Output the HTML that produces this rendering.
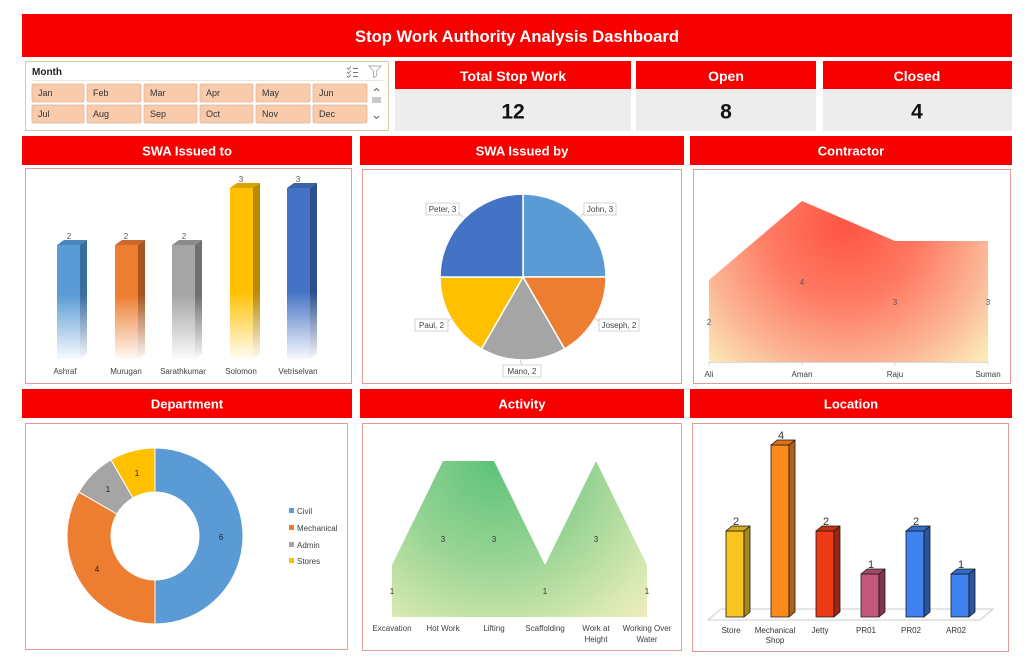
<!DOCTYPE html>
<html><head><meta charset="utf-8"><style>
html,body{margin:0;padding:0;background:#fff;}
svg{display:block;font-family:"Liberation Sans",Arial,sans-serif;}
</style></head><body>
<svg width="1030" height="672" viewBox="0 0 1030 672" xmlns="http://www.w3.org/2000/svg">
<defs>
  <linearGradient id="gB1" gradientUnits="userSpaceOnUse" x1="0" y1="185" x2="0" y2="362"><stop offset="0" stop-color="#5B9BD5"/><stop offset="0.62" stop-color="#5B9BD5"/><stop offset="1" stop-color="#5B9BD5" stop-opacity="0"/></linearGradient>
  <linearGradient id="gB1s" gradientUnits="userSpaceOnUse" x1="0" y1="185" x2="0" y2="362"><stop offset="0" stop-color="#3A6E9E"/><stop offset="0.62" stop-color="#3A6E9E"/><stop offset="1" stop-color="#3A6E9E" stop-opacity="0"/></linearGradient>
  <linearGradient id="gB2" gradientUnits="userSpaceOnUse" x1="0" y1="185" x2="0" y2="362"><stop offset="0" stop-color="#ED7D31"/><stop offset="0.62" stop-color="#ED7D31"/><stop offset="1" stop-color="#ED7D31" stop-opacity="0"/></linearGradient>
  <linearGradient id="gB2s" gradientUnits="userSpaceOnUse" x1="0" y1="185" x2="0" y2="362"><stop offset="0" stop-color="#A8551E"/><stop offset="0.62" stop-color="#A8551E"/><stop offset="1" stop-color="#A8551E" stop-opacity="0"/></linearGradient>
  <linearGradient id="gB3" gradientUnits="userSpaceOnUse" x1="0" y1="185" x2="0" y2="362"><stop offset="0" stop-color="#A5A5A5"/><stop offset="0.62" stop-color="#A5A5A5"/><stop offset="1" stop-color="#A5A5A5" stop-opacity="0"/></linearGradient>
  <linearGradient id="gB3s" gradientUnits="userSpaceOnUse" x1="0" y1="185" x2="0" y2="362"><stop offset="0" stop-color="#707070"/><stop offset="0.62" stop-color="#707070"/><stop offset="1" stop-color="#707070" stop-opacity="0"/></linearGradient>
  <linearGradient id="gB4" gradientUnits="userSpaceOnUse" x1="0" y1="185" x2="0" y2="362"><stop offset="0" stop-color="#FFC000"/><stop offset="0.6" stop-color="#FFC000"/><stop offset="1" stop-color="#FFC000" stop-opacity="0"/></linearGradient>
  <linearGradient id="gB4s" gradientUnits="userSpaceOnUse" x1="0" y1="185" x2="0" y2="362"><stop offset="0" stop-color="#B88A00"/><stop offset="0.6" stop-color="#B88A00"/><stop offset="1" stop-color="#B88A00" stop-opacity="0"/></linearGradient>
  <linearGradient id="gB5" gradientUnits="userSpaceOnUse" x1="0" y1="185" x2="0" y2="362"><stop offset="0" stop-color="#4472C4"/><stop offset="0.6" stop-color="#4472C4"/><stop offset="1" stop-color="#4472C4" stop-opacity="0"/></linearGradient>
  <linearGradient id="gB5s" gradientUnits="userSpaceOnUse" x1="0" y1="185" x2="0" y2="362"><stop offset="0" stop-color="#2B4F8C"/><stop offset="0.6" stop-color="#2B4F8C"/><stop offset="1" stop-color="#2B4F8C" stop-opacity="0"/></linearGradient>
  <radialGradient id="gCon" gradientUnits="userSpaceOnUse" cx="845" cy="225" r="190"><stop offset="0" stop-color="#FF5444"/><stop offset="0.4" stop-color="#FF7A62"/><stop offset="0.75" stop-color="#FBB595"/><stop offset="1" stop-color="#FCE8B6"/></radialGradient>
  <radialGradient id="gAct" gradientUnits="userSpaceOnUse" cx="495" cy="462" r="230"><stop offset="0" stop-color="#5CC27A"/><stop offset="0.45" stop-color="#9BD595"/><stop offset="0.8" stop-color="#D9E9B2"/><stop offset="1" stop-color="#F8EEC2"/></radialGradient>
</defs>

<!-- Title -->
<rect x="22" y="14" width="990" height="43" fill="#F70000"/>
<text x="517" y="42" font-size="16.6" font-weight="bold" fill="#fff" text-anchor="middle">Stop Work Authority Analysis Dashboard</text>

<!-- Slicer -->
<rect x="25.5" y="61.5" width="363" height="69" fill="#fff" stroke="#D8C9A6"/>
<text x="32" y="75" font-size="10" font-weight="bold" fill="#222">Month</text>
<line x1="32" y1="80.5" x2="383" y2="80.5" stroke="#ECE6DA"/>
<g stroke="#777" stroke-width="0.9" fill="none">
  <path d="M347 68 l1.5 1.5 l2.5 -3 M347 72 l1.5 1.5 l2.5 -3 M347 76 l1.5 1.5 l2.5 -3"/>
  <path d="M353 68.5 h5 M353 72.5 h5 M353 76.5 h5"/>
</g>
<path d="M369 66 h12 l-4.5 5 v5 l-3 1.5 v-6.5 z" fill="none" stroke="#AAA" stroke-width="0.9"/>
<g fill="#F8CBAD" stroke="#E2B597" stroke-width="0.8">
  <rect x="32" y="84" width="52" height="18" rx="1"/><rect x="87" y="84" width="54" height="18" rx="1"/><rect x="144" y="84" width="53" height="18" rx="1"/><rect x="200" y="84" width="53" height="18" rx="1"/><rect x="256" y="84" width="54" height="18" rx="1"/><rect x="313" y="84" width="54" height="18" rx="1"/>
  <rect x="32" y="105" width="52" height="18" rx="1"/><rect x="87" y="105" width="54" height="18" rx="1"/><rect x="144" y="105" width="53" height="18" rx="1"/><rect x="200" y="105" width="53" height="18" rx="1"/><rect x="256" y="105" width="54" height="18" rx="1"/><rect x="313" y="105" width="54" height="18" rx="1"/>
</g>
<g font-size="9" fill="#333">
  <text x="38" y="96">Jan</text><text x="93" y="96">Feb</text><text x="150" y="96">Mar</text><text x="206" y="96">Apr</text><text x="262" y="96">May</text><text x="319" y="96">Jun</text>
  <text x="38" y="117">Jul</text><text x="93" y="117">Aug</text><text x="150" y="117">Sep</text><text x="206" y="117">Oct</text><text x="262" y="117">Nov</text><text x="319" y="117">Dec</text>
</g>
<path d="M374 91 l2.5 -2.5 l2.5 2.5" fill="none" stroke="#555" stroke-width="0.9"/>
<rect x="372" y="97" width="9" height="6" fill="#C9C9C9"/>
<path d="M374 116 l2.5 2.5 l2.5 -2.5" fill="none" stroke="#555" stroke-width="0.9"/>

<!-- KPIs -->
<rect x="395" y="61" width="236" height="28" fill="#F70000"/>
<rect x="395" y="89" width="236" height="42" fill="#EDEDED"/>
<text x="513" y="81" font-size="14" font-weight="bold" fill="#fff" text-anchor="middle">Total Stop Work</text>
<text x="513" y="118.5" font-size="21" font-weight="bold" fill="#111" text-anchor="middle">12</text>
<rect x="636" y="61" width="180" height="28" fill="#F70000"/>
<rect x="636" y="89" width="180" height="42" fill="#EDEDED"/>
<text x="726" y="81" font-size="14" font-weight="bold" fill="#fff" text-anchor="middle">Open</text>
<text x="726" y="118.5" font-size="21" font-weight="bold" fill="#111" text-anchor="middle">8</text>
<rect x="823" y="61" width="189" height="28" fill="#F70000"/>
<rect x="823" y="89" width="189" height="42" fill="#EDEDED"/>
<text x="917" y="81" font-size="14" font-weight="bold" fill="#fff" text-anchor="middle">Closed</text>
<text x="917" y="118.5" font-size="21" font-weight="bold" fill="#111" text-anchor="middle">4</text>

<!-- Section headers -->
<g fill="#F70000">
  <rect x="22" y="136" width="330" height="29"/><rect x="360" y="136" width="324" height="29"/><rect x="690" y="136" width="322" height="29"/>
  <rect x="22" y="389" width="330" height="29"/><rect x="360" y="389" width="324" height="29"/><rect x="690" y="389" width="322" height="29"/>
</g>
<g font-size="13" font-weight="bold" fill="#fff" text-anchor="middle">
  <text x="187" y="155.5">SWA Issued to</text><text x="522" y="155.5">SWA Issued by</text><text x="851" y="155.5">Contractor</text>
  <text x="187" y="408.5">Department</text><text x="522" y="408.5">Activity</text><text x="851" y="408.5">Location</text>
</g>

<!-- Chart boxes -->
<g fill="none" stroke="#E79A9A" stroke-width="1">
  <rect x="25.5" y="168.5" width="326" height="215"/>
  <rect x="362.5" y="169.5" width="319" height="214"/>
  <rect x="693.5" y="169.5" width="317" height="214"/>
  <rect x="25.5" y="423.5" width="322" height="226"/>
  <rect x="362.5" y="423.5" width="319" height="227"/>
  <rect x="692.5" y="423.5" width="316" height="228"/>
</g>

<!-- SWA Issued to: 3D bars -->
<g>
  <rect x="57" y="245" width="23" height="114" fill="url(#gB1)"/>
  <path d="M80 245 L87 240 L87 354 L80 359 Z" fill="url(#gB1s)"/>
  <path d="M57 245 L64 240 L87 240 L80 245 Z" fill="#4A85BE"/>
  <rect x="115" y="245" width="23" height="114" fill="url(#gB2)"/>
  <path d="M138 245 L145 240 L145 354 L138 359 Z" fill="url(#gB2s)"/>
  <path d="M115 245 L122 240 L145 240 L138 245 Z" fill="#C9692A"/>
  <rect x="172" y="245" width="23" height="114" fill="url(#gB3)"/>
  <path d="M195 245 L202 240 L202 354 L195 359 Z" fill="url(#gB3s)"/>
  <path d="M172 245 L179 240 L202 240 L195 245 Z" fill="#8C8C8C"/>
  <rect x="230" y="188" width="23" height="171" fill="url(#gB4)"/>
  <path d="M253 188 L260 183 L260 354 L253 359 Z" fill="url(#gB4s)"/>
  <path d="M230 188 L237 183 L260 183 L253 188 Z" fill="#D9A300"/>
  <rect x="287" y="188" width="23" height="171" fill="url(#gB5)"/>
  <path d="M310 188 L317 183 L317 354 L310 359 Z" fill="url(#gB5s)"/>
  <path d="M287 188 L294 183 L317 183 L310 188 Z" fill="#3A62A8"/>
</g>
<g font-size="8" fill="#595959" text-anchor="middle">
  <text x="69" y="239">2</text><text x="126" y="239">2</text><text x="184" y="239">2</text><text x="241" y="182">3</text><text x="298" y="182">3</text>
</g>
<g font-size="8" fill="#404040" text-anchor="middle">
  <text x="65" y="374">Ashraf</text><text x="126" y="374">Murugan</text><text x="183" y="374">Sarathkumar</text><text x="241" y="374">Solomon</text><text x="298" y="374">Vetriselvan</text>
</g>

<!-- SWA Issued by: pie -->
<g stroke="#fff" stroke-width="1.5">
  <path d="M523 277 L523 194 A83 83 0 0 1 606 277 Z" fill="#5B9BD5"/>
  <path d="M523 277 L606 277 A83 83 0 0 1 564.5 348.9 Z" fill="#ED7D31"/>
  <path d="M523 277 L564.5 348.9 A83 83 0 0 1 481.5 348.9 Z" fill="#A5A5A5"/>
  <path d="M523 277 L481.5 348.9 A83 83 0 0 1 440 277 Z" fill="#FFC000"/>
  <path d="M523 277 L440 277 A83 83 0 0 1 523 194 Z" fill="#4472C4"/>
</g>
<g stroke="#BFBFBF" stroke-width="0.8" fill="none">
  <line x1="458" y1="212" x2="463" y2="217"/><line x1="585" y1="212" x2="580" y2="217"/>
  <line x1="600" y1="322" x2="595" y2="318"/><line x1="447" y1="322" x2="452" y2="318"/>
  <line x1="522" y1="365" x2="520" y2="360"/>
</g>
<g fill="#fff" stroke="#C8C8C8" stroke-width="0.8">
  <rect x="426" y="203" width="33" height="12"/><rect x="584" y="203" width="32" height="12"/>
  <rect x="599" y="319" width="40" height="12"/><rect x="415" y="319" width="33" height="12"/>
  <rect x="503" y="365" width="38" height="12"/>
</g>
<g font-size="8" fill="#404040" text-anchor="middle">
  <text x="442.5" y="212">Peter, 3</text><text x="600" y="212">John, 3</text>
  <text x="619" y="328">Joseph, 2</text><text x="431.5" y="328">Paul, 2</text>
  <text x="522" y="374">Mano, 2</text>
</g>

<!-- Contractor: area -->
<polygon points="709,362 709,280 802,201 895,241 988,241 988,362" fill="url(#gCon)"/>
<g stroke="#D9D9D9" stroke-width="1">
  <line x1="709" y1="362.5" x2="988" y2="362.5"/>
  <line x1="709" y1="362" x2="709" y2="366"/><line x1="802" y1="362" x2="802" y2="366"/><line x1="895" y1="362" x2="895" y2="366"/><line x1="988" y1="362" x2="988" y2="366"/>
</g>
<g font-size="8" fill="#595959" text-anchor="middle">
  <text x="709" y="325">2</text><text x="802" y="285">4</text><text x="895" y="305">3</text><text x="988" y="305">3</text>
</g>
<g font-size="8" fill="#404040" text-anchor="middle">
  <text x="709" y="377">Ali</text><text x="802" y="377">Aman</text><text x="895" y="377">Raju</text><text x="988" y="377">Suman</text>
</g>

<!-- Department: donut -->
<g stroke="#fff" stroke-width="1">
  <path d="M155 448 A88 88 0 0 1 155 624 L155 580 A44 44 0 0 0 155 492 Z" fill="#5B9BD5"/>
  <path d="M155 624 A88 88 0 0 1 78.8 492 L116.9 514 A44 44 0 0 0 155 580 Z" fill="#ED7D31"/>
  <path d="M78.8 492 A88 88 0 0 1 111 459.8 L133 497.9 A44 44 0 0 0 116.9 514 Z" fill="#A5A5A5"/>
  <path d="M111 459.8 A88 88 0 0 1 155 448 L155 492 A44 44 0 0 0 133 497.9 Z" fill="#FFC000"/>
</g>
<g font-size="8" fill="#222" text-anchor="middle">
  <text x="221" y="540">6</text><text x="97" y="572">4</text><text x="108" y="492">1</text><text x="137" y="476">1</text>
</g>
<rect x="289" y="508" width="5" height="5" fill="#5B9BD5"/>
<rect x="289" y="525" width="5" height="5" fill="#ED7D31"/>
<rect x="289" y="542" width="5" height="5" fill="#A5A5A5"/>
<rect x="289" y="558" width="5" height="5" fill="#FFC000"/>
<g font-size="8" fill="#404040">
  <text x="297" y="514">Civil</text><text x="297" y="531">Mechanical</text><text x="297" y="548">Admin</text><text x="297" y="564">Stores</text>
</g>

<!-- Activity: area -->
<polygon points="392,617 392,565 443,461 494,461 545,565 596,461 647,565 647,617" fill="url(#gAct)"/>
<g font-size="8" fill="#333" text-anchor="middle">
  <text x="392" y="594">1</text><text x="443" y="542">3</text><text x="494" y="542">3</text><text x="545" y="594">1</text><text x="596" y="542">3</text><text x="647" y="594">1</text>
</g>
<g font-size="8" fill="#404040" text-anchor="middle">
  <text x="392" y="631">Excavation</text><text x="443" y="631">Hot Work</text><text x="494" y="631">Lifting</text><text x="545" y="631">Scaffolding</text>
  <text x="596" y="631">Work at</text><text x="596" y="642">Height</text>
  <text x="647" y="631">Working Over</text><text x="647" y="642">Water</text>
</g>

<!-- Location: 3D bars -->
<polygon points="708,620 980,620 993,609 721,609" fill="#fff" stroke="#BDBDBD" stroke-width="0.8"/>
<g stroke="#1a1a1a" stroke-width="0.8" stroke-linejoin="round">
  <rect x="726" y="531" width="18" height="86" fill="#F6C520"/>
  <path d="M744 531 L750 526 L750 612 L744 617 Z" fill="#A8861C"/>
  <path d="M726 531 L732 526 L750 526 L744 531 Z" fill="#D4A81A"/>
  <rect x="771" y="445" width="18" height="172" fill="#FF8A1C"/>
  <path d="M789 445 L795 440 L795 612 L789 617 Z" fill="#B0601A"/>
  <path d="M771 445 L777 440 L795 440 L789 445 Z" fill="#D9731A"/>
  <rect x="816" y="531" width="18" height="86" fill="#EE3A16"/>
  <path d="M834 531 L840 526 L840 612 L834 617 Z" fill="#9E2610"/>
  <path d="M816 531 L822 526 L840 526 L834 531 Z" fill="#C93012"/>
  <rect x="861" y="574" width="18" height="43" fill="#C4587C"/>
  <path d="M879 574 L885 569 L885 612 L879 617 Z" fill="#7E3550"/>
  <path d="M861 574 L867 569 L885 569 L879 574 Z" fill="#A04866"/>
  <rect x="906" y="531" width="18" height="86" fill="#3F82F0"/>
  <path d="M924 531 L930 526 L930 612 L924 617 Z" fill="#2A55A0"/>
  <path d="M906 531 L912 526 L930 526 L924 531 Z" fill="#336BC8"/>
  <rect x="951" y="574" width="18" height="43" fill="#3F82F0"/>
  <path d="M969 574 L975 569 L975 612 L969 617 Z" fill="#2A55A0"/>
  <path d="M951 574 L957 569 L975 569 L969 574 Z" fill="#336BC8"/>
</g>
<g font-size="11" fill="#333" text-anchor="middle">
  <text x="736" y="525">2</text><text x="781" y="439">4</text><text x="826" y="525">2</text><text x="871" y="568">1</text><text x="916" y="525">2</text><text x="961" y="568">1</text>
</g>
<g font-size="8" fill="#333" text-anchor="middle">
  <text x="731" y="633">Store</text><text x="775" y="633">Mechanical</text><text x="775" y="643">Shop</text>
  <text x="820" y="633">Jetty</text><text x="866" y="633">PR01</text><text x="911" y="633">PR02</text><text x="956" y="633">AR02</text>
</g>
</svg>
</body></html>
